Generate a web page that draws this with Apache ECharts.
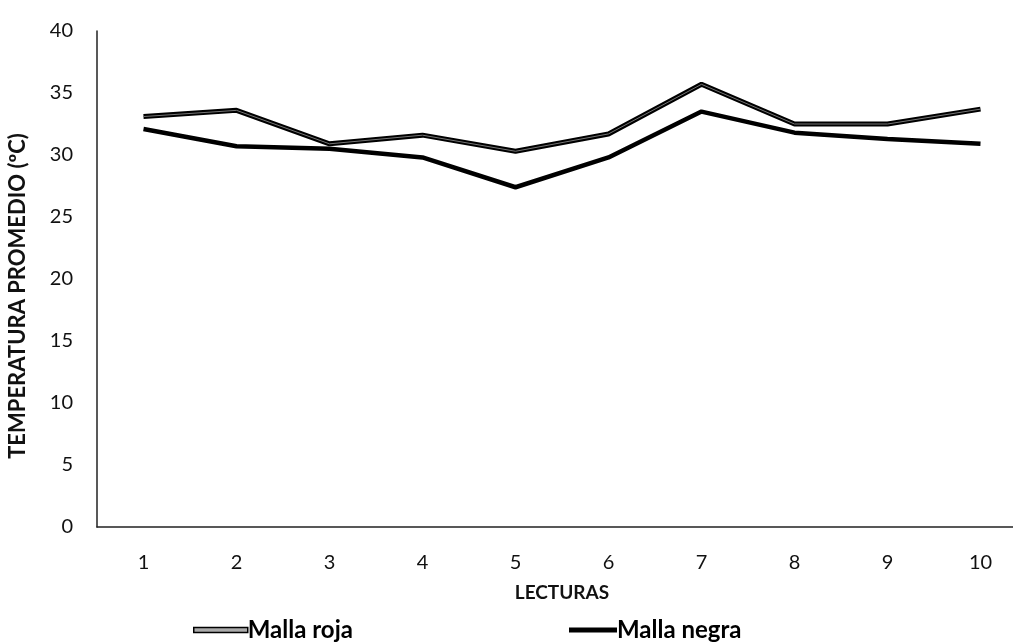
<!DOCTYPE html>
<html><head><meta charset="utf-8">
<script src="https://cdn.jsdelivr.net/npm/echarts@6/dist/echarts.min.js"></script>
<style>html,body{margin:0;padding:0;background:#fff}#c{width:1013px;height:643px}</style>
</head><body><div id="c"></div>
<script>
const categories = ['1','2','3','4','5','6','7','8','9','10'];
const mallaRoja = [33.1, 33.6, 30.9, 31.6, 30.3, 31.7, 35.7, 32.5, 32.5, 33.7];
const mallaNegra = [32.1, 30.7, 30.5, 29.8, 27.4, 29.8, 33.5, 31.8, 31.3, 30.9];
const yTicks = [0, 5, 10, 15, 20, 25, 30, 35, 40];

const font = 'Lato, "Liberation Sans", sans-serif';
const chart = echarts.init(document.getElementById('c'), null, {renderer: 'canvas'});
chart.setOption({
  animation: false,
  backgroundColor: '#fff',
  grid: {left: 97, top: 31, width: 930, bottom: 116, containLabel: false, outerBoundsMode: 'none'},
  xAxis: {
    type: 'category', data: categories, boundaryGap: true,
    name: 'LECTURAS', nameLocation: 'middle', nameGap: 56,
    nameTextStyle: {fontFamily: font, fontWeight: 'bold', fontSize: 19, color: '#111'},
    axisLine: {lineStyle: {color: '#222', width: 1.5}},
    axisTick: {show: false},
    axisLabel: {fontFamily: font, fontSize: 20, color: '#111', margin: 26}
  },
  yAxis: {
    type: 'value', min: yTicks[0], max: yTicks[yTicks.length - 1], interval: 5,
    name: 'TEMPERATURA PROMEDIO (ºC)', nameLocation: 'middle', nameGap: 68, nameRotate: 90,
    nameTextStyle: {fontFamily: font, fontWeight: 'bold', fontSize: 22, color: '#111', padding: [0, 34, 0, 0]},
    axisLine: {show: true, lineStyle: {color: '#222', width: 1.5}},
    axisTick: {show: false},
    splitLine: {show: false},
    axisLabel: {fontFamily: font, fontSize: 20, color: '#111', margin: 24}
  },
  legend: [
    {data: [{name: 'Malla roja', icon: 'rect', itemStyle: {color: '#aaa', borderColor: '#000', borderWidth: 1.5}}],
     left: 188, top: 613, itemWidth: 54, itemHeight: 5, itemGap: 0,
     textStyle: {fontFamily: font, fontWeight: 'bold', fontSize: 24, color: '#000', padding: [0,0,0,-5]}},
    {data: [{name: 'Malla negra', icon: 'rect', itemStyle: {color: '#000'}}],
     left: 564, top: 613, itemWidth: 48, itemHeight: 5, itemGap: 0,
     textStyle: {fontFamily: font, fontWeight: 'bold', fontSize: 24, color: '#000', padding: [0,0,0,-5]}}
  ],
  series: [
    {name: 'Malla roja', type: 'line', data: mallaRoja, symbol: 'none',
     lineStyle: {color: '#000', width: 5}, itemStyle: {color: '#000'}, z: 3},
    {name: 'roja-centro', type: 'line', data: mallaRoja, symbol: 'none',
     lineStyle: {color: '#777', width: 1}, z: 4, silent: true},
    {name: 'Malla negra', type: 'line', data: mallaNegra, symbol: 'none',
     lineStyle: {color: '#000', width: 4.5}, itemStyle: {color: '#000'}, z: 2}
  ]
});
</script></body></html>
